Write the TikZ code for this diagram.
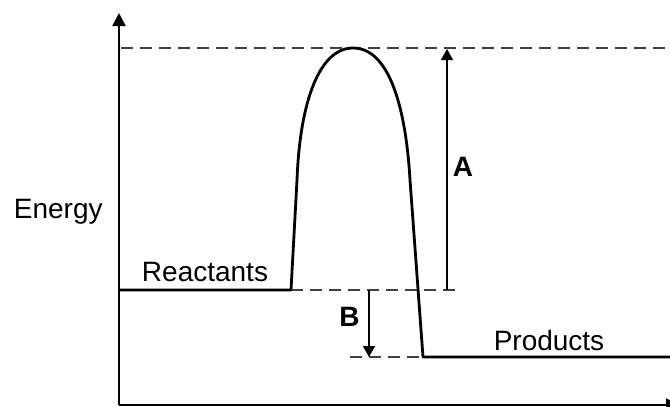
\documentclass[tikz,border=0pt]{standalone}
\usepackage{fontspec}
\setmainfont{Liberation Sans}
\usetikzlibrary{arrows.meta}

\begin{document}
\begin{tikzpicture}[
    x=0.5pt, y=-0.5pt,
    every node/.style={font=\fontsize{14}{17}\selectfont, inner sep=0pt},
    axis/.style={line width=1.15pt, -{Triangle[width=6.5pt,length=6.5pt]}},
    level/.style={line width=1.4pt},
    guide/.style={line width=0.6pt, dash pattern=on 6pt off 3.5pt, black!75},
    gap/.style={line width=0.6pt, -{Triangle[width=6pt,length=5.5pt]}},
    letter/.style={font=\fontsize{14}{17}\selectfont\bfseries},
]
\useasboundingbox (0,0) rectangle (670,407);

% === Axes ===
\coordinate (origin) at (119,405);
\coordinate (ytop) at (119,13);
\coordinate (xend) at (679,405);
\draw[axis] (origin) -- (ytop);
\draw[axis] (origin) -- (xend);

% === Energy levels ===
\coordinate (r0) at (120,290);
\coordinate (r1) at (291,290);
\coordinate (peak) at (353,48);
\coordinate (p0) at (423,357);
\coordinate (p1) at (670,357);

% === Dashed guides ===
\coordinate (toplft) at (121,48);
\coordinate (toprgt) at (670,48);
\coordinate (rguide) at (462,290);
\coordinate (pguide) at (350,357);
\draw[guide] (toplft) -- (toprgt);
\draw[guide] (r1) -- (rguide);
\draw[guide] (pguide) -- (p0);

% === Reaction path ===
\draw[level, line join=round] (r0) -- (r1) -- (297,180)
    .. controls (300,100) and (320,48) .. (peak)
    .. controls (390,48) and (406,110) .. (410,180) -- (p0) -- (p1);

% === Energy differences ===
\coordinate (a0) at (447,290);
\coordinate (a1) at (447,49);
\coordinate (b0) at (369,290);
\coordinate (b1) at (369,357);
\draw[gap] (a0) -- (a1);
\draw[gap] (b0) -- (b1);

% === Labels ===
\node[anchor=base east] (energy) at (103,218) {Energy};
\node[anchor=base] (react) at (205,281) {Reactants};
\node[anchor=base] (prod) at (549,350) {Products};
\node[letter, anchor=base] (A) at (463,176) {A};
\node[letter, anchor=base] (B) at (349.5,326) {B};

\end{tikzpicture}
\end{document}
